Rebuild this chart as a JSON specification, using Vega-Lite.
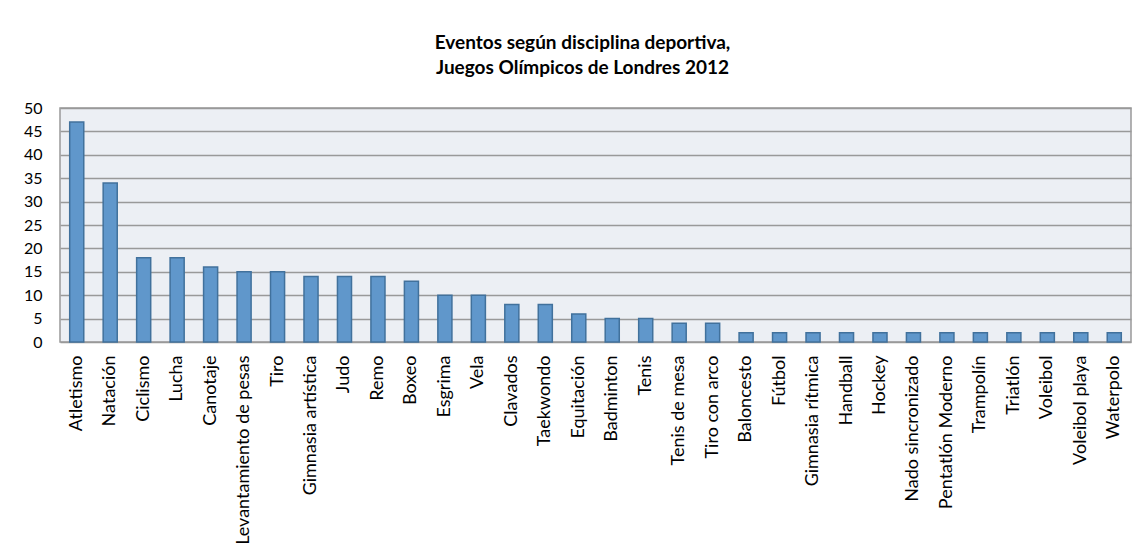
{
  "$schema": "https://vega.github.io/schema/vega-lite/v6.json",
  "width": 1071,
  "height": 234,
  "autosize": "none",
  "padding": {"left": 60, "top": 108, "right": 13, "bottom": 208},
  "background": "white",
  "title": {
    "text": ["Eventos según disciplina deportiva,", "Juegos Olímpicos de Londres 2012"],
    "font": "Lato",
    "fontSize": 19,
    "fontWeight": "bold",
    "color": "black",
    "anchor": "middle",
    "offset": 22,
    "lineHeight": 25,
    "dx": -13
  },
  "data": {
    "values": [
      {"disciplina": "Atletismo", "eventos": 47},
      {"disciplina": "Natación", "eventos": 34},
      {"disciplina": "Ciclismo", "eventos": 18},
      {"disciplina": "Lucha", "eventos": 18},
      {"disciplina": "Canotaje", "eventos": 16},
      {"disciplina": "Levantamiento de pesas", "eventos": 15},
      {"disciplina": "Tiro", "eventos": 15},
      {"disciplina": "Gimnasia artística", "eventos": 14},
      {"disciplina": "Judo", "eventos": 14},
      {"disciplina": "Remo", "eventos": 14},
      {"disciplina": "Boxeo", "eventos": 13},
      {"disciplina": "Esgrima", "eventos": 10},
      {"disciplina": "Vela", "eventos": 10},
      {"disciplina": "Clavados", "eventos": 8},
      {"disciplina": "Taekwondo", "eventos": 8},
      {"disciplina": "Equitación", "eventos": 6},
      {"disciplina": "Badminton", "eventos": 5},
      {"disciplina": "Tenis", "eventos": 5},
      {"disciplina": "Tenis de mesa", "eventos": 4},
      {"disciplina": "Tiro con arco", "eventos": 4},
      {"disciplina": "Baloncesto", "eventos": 2},
      {"disciplina": "Fútbol", "eventos": 2},
      {"disciplina": "Gimnasia rítmica", "eventos": 2},
      {"disciplina": "Handball", "eventos": 2},
      {"disciplina": "Hockey", "eventos": 2},
      {"disciplina": "Nado sincronizado", "eventos": 2},
      {"disciplina": "Pentatlón Moderno", "eventos": 2},
      {"disciplina": "Trampolín", "eventos": 2},
      {"disciplina": "Triatlón", "eventos": 2},
      {"disciplina": "Voleibol", "eventos": 2},
      {"disciplina": "Voleibol playa", "eventos": 2},
      {"disciplina": "Waterpolo", "eventos": 2}
    ]
  },
  "mark": {"type": "bar", "color": "#6097CB", "stroke": "#41719C", "strokeWidth": 1.5},
  "encoding": {
    "x": {
      "field": "disciplina",
      "type": "nominal",
      "sort": null,
      "scale": {"paddingInner": 0.58, "paddingOuter": 0.29},
      "axis": {
        "title": null,
        "labelAngle": -90,
        "labelFont": "Lato",
        "labelFontSize": 18,
        "labelColor": "black",
        "labelPadding": 13,
        "labelLimit": 300,
        "ticks": false,
        "domain": false
      }
    },
    "y": {
      "field": "eventos",
      "type": "quantitative",
      "scale": {"domain": [0, 50]},
      "axis": {
        "title": null,
        "values": [0, 5, 10, 15, 20, 25, 30, 35, 40, 45, 50],
        "labelFont": "Lato",
        "labelFontSize": 16,
        "labelColor": "black",
        "labelPadding": 18,
        "ticks": false,
        "domain": false,
        "gridColor": "#999999",
        "gridWidth": 1.5,
        "gridOpacity": 1
      }
    }
  },
  "config": {
    "view": {"fill": "#ECEFF4", "stroke": "#999999", "strokeWidth": 1.5}
  }
}
